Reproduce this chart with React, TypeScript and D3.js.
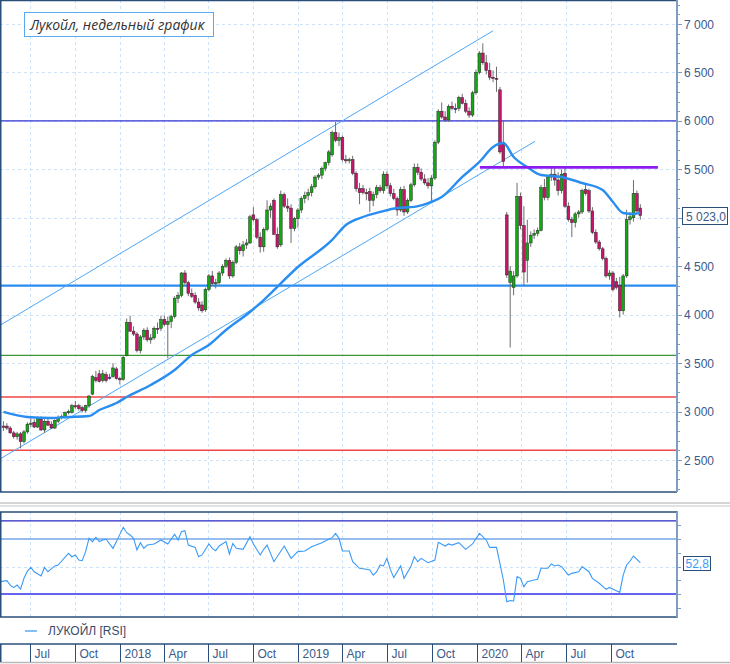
import React from "react";
import * as d3 from "d3";

type OHLC = [number, number, number, number];

// weekly candles: open, high, low, close
const candles2017: OHLC[] = [
  [2850, 2900, 2800, 2845], [2850, 2880, 2810, 2830], [2830, 2850, 2770, 2780], [2780, 2800, 2720, 2740],
  [2740, 2790, 2710, 2770], [2770, 2790, 2620, 2690], [2690, 2810, 2670, 2790], [2790, 2890, 2770, 2870],
  [2870, 2940, 2840, 2880], [2890, 2920, 2830, 2840], [2840, 2950, 2830, 2930], [2920, 2950, 2800, 2810],
  [2810, 2920, 2780, 2900], [2900, 2930, 2850, 2860], [2870, 2900, 2820, 2830], [2830, 2920, 2820, 2910],
  [2900, 2960, 2880, 2940], [2940, 2970, 2920, 2950], [2950, 3000, 2930, 2990], [2990, 3020, 2970, 3000],
  [2990, 3080, 2980, 3060], [3060, 3110, 3030, 3050], [3060, 3080, 3010, 3030], [3040, 3060, 2990, 3010],
  [3010, 3070, 2990, 3060], [3060, 3170, 3040, 3160], [3180, 3380, 3170, 3360], [3350, 3420, 3300, 3320],
  [3390, 3430, 3300, 3310], [3320, 3430, 3300, 3390], [3380, 3410, 3300, 3320], [3355, 3390, 3330, 3355],
  [3360, 3500, 3350, 3450], [3440, 3460, 3330, 3340],
];

const candles2018: OHLC[] = [
  [3340, 3360, 3280, 3330], [3330, 3580, 3320, 3560], [3580, 3960, 3570, 3920], [3920, 3990, 3820, 3830],
  [3830, 3880, 3780, 3800], [3800, 3820, 3610, 3630], [3630, 3790, 3600, 3770], [3770, 3860, 3740, 3840],
  [3840, 3870, 3720, 3740], [3740, 3800, 3700, 3760], [3760, 3880, 3740, 3860], [3860, 3920, 3800, 3850],
  [3860, 3990, 3830, 3950], [3950, 3990, 3880, 3900], [3900, 3980, 3550, 3930], [3930, 4000, 3860, 3980],
  [3980, 4190, 3960, 4170], [4170, 4230, 4120, 4200], [4200, 4440, 4180, 4430], [4430, 4460, 4310, 4330],
  [4330, 4350, 4190, 4220], [4220, 4270, 4170, 4190], [4200, 4230, 4110, 4130], [4130, 4170, 4040, 4070],
  [4100, 4140, 4020, 4040], [4050, 4280, 4030, 4260], [4260, 4420, 4240, 4400], [4400, 4450, 4300, 4320],
  [4320, 4370, 4270, 4330], [4330, 4450, 4310, 4430], [4430, 4520, 4400, 4500], [4500, 4580, 4480, 4560],
  [4560, 4590, 4370, 4400], [4400, 4560, 4380, 4540], [4540, 4720, 4520, 4700], [4700, 4740, 4620, 4660],
  [4660, 4760, 4600, 4720], [4720, 4780, 4680, 4740], [4740, 5030, 4730, 5010], [5030, 5110, 4960, 4980],
  [4980, 5000, 4780, 4800], [4800, 4850, 4640, 4700], [4700, 4900, 4650, 4880], [4880, 5180, 4860, 5080],
  [5080, 5150, 5000, 5120], [5180, 5200, 4820, 4830], [4830, 4900, 4680, 4700], [4720, 5280, 4700, 5240],
  [5240, 5260, 5100, 5120], [5120, 5200, 5060, 5100], [5100, 5140, 4740, 4890], [4890, 5010, 4860, 4990],
];

const candles2019: OHLC[] = [
  [4990, 5100, 4900, 5080], [5080, 5220, 5050, 5200], [5200, 5270, 5150, 5230], [5230, 5300, 5180, 5260],
  [5260, 5350, 5220, 5320], [5320, 5440, 5300, 5420], [5420, 5460, 5390, 5440], [5440, 5530, 5400, 5510],
  [5510, 5580, 5480, 5570], [5570, 5700, 5540, 5680], [5650, 5900, 5630, 5880], [5880, 5990, 5780, 5800],
  [5800, 5880, 5740, 5830], [5830, 5850, 5580, 5600], [5600, 5650, 5560, 5590], [5590, 5620, 5560, 5600],
  [5600, 5640, 5440, 5460], [5460, 5480, 5270, 5300], [5300, 5360, 5140, 5260], [5300, 5340, 5240, 5260],
  [5260, 5300, 5180, 5250], [5270, 5310, 5060, 5180], [5180, 5270, 5120, 5240], [5240, 5340, 5200, 5310],
  [5310, 5340, 5260, 5280], [5280, 5480, 5250, 5450], [5450, 5480, 5300, 5330], [5330, 5360, 5220, 5250],
  [5250, 5300, 5180, 5200], [5200, 5220, 5020, 5080], [5080, 5320, 5060, 5290], [5290, 5330, 5020, 5060],
  [5060, 5200, 5040, 5180], [5180, 5360, 5160, 5340], [5340, 5560, 5320, 5520], [5520, 5560, 5440, 5470],
  [5470, 5510, 5380, 5400], [5400, 5450, 5340, 5360], [5360, 5410, 5300, 5330], [5330, 5440, 5160, 5410],
  [5410, 5800, 5390, 5780], [5780, 6120, 5760, 6100], [6100, 6190, 6020, 6040], [6040, 6100, 5990, 6010],
  [6010, 6170, 5990, 6150], [6150, 6200, 6110, 6130], [6130, 6180, 6080, 6130], [6130, 6260, 6100, 6240],
  [6240, 6280, 6170, 6180], [6180, 6220, 6080, 6100], [6100, 6140, 6030, 6060], [6060, 6310, 6040, 6290],
];

const candles2020: OHLC[] = [
  [6290, 6530, 6270, 6500], [6500, 6720, 6480, 6700], [6700, 6800, 6580, 6600], [6600, 6680, 6480, 6520],
  [6520, 6600, 6420, 6450], [6450, 6520, 6400, 6440], [6440, 6560, 6300, 6430], [6320, 6350, 5660, 5680],
  [5780, 6000, 5530, 5580], [5030, 5060, 4380, 4410], [4330, 4500, 3660, 4450], [4280, 4450, 4200, 4400],
  [4400, 5360, 4380, 5220], [5220, 5260, 4880, 4920], [4920, 5120, 4300, 4440], [4560, 4980, 4330, 4740],
  [4740, 4860, 4700, 4820], [4820, 4880, 4780, 4840], [4840, 4900, 4810, 4870], [4870, 5340, 4860, 5310],
  [5310, 5400, 5180, 5210], [5210, 5440, 5180, 5420], [5420, 5520, 5380, 5450], [5450, 5520, 5330, 5390],
  [5390, 5470, 5230, 5280], [5280, 5500, 5250, 5450], [5460, 5520, 5100, 5120], [5120, 5160, 4960, 4980],
  [4980, 5010, 4800, 4950], [4950, 5060, 4900, 5040], [5040, 5080, 5000, 5060], [5060, 5300, 5040, 5280],
  [5290, 5350, 5230, 5250], [5280, 5300, 5050, 5070], [5070, 5110, 4830, 4850], [4850, 4880, 4730, 4750],
  [4750, 4770, 4660, 4680], [4680, 4700, 4560, 4580], [4580, 4600, 4380, 4400], [4400, 4460, 4360, 4430],
  [4430, 4450, 4240, 4260], [4340, 4380, 4260, 4280], [4300, 4390, 3970, 4040], [4040, 4420, 4000, 4400],
  [4400, 5080, 4380, 4980], [4980, 5060, 4930, 5010], [5000, 5390, 4960, 5250], [5250, 5280, 5040, 5070],
  [5100, 5140, 4980, 5023],
];

// moving average, read at selected weeks
const maWeek = [0, 7, 14, 19, 25, 28, 33, 36, 43, 50, 55, 60, 65, 72, 76, 86, 96, 100, 105, 110, 115, 120, 125, 128, 134, 139, 143, 146, 149, 153, 157, 163, 169, 175, 178, 181, 184, 186];
const maValue = [2996, 2944, 2934, 2944, 2954, 3016, 3088, 3150, 3274, 3429, 3584, 3687, 3842, 4028, 4151, 4492, 4771, 4925, 5008, 5060, 5101, 5112, 5163, 5214, 5421, 5576, 5731, 5772, 5627, 5524, 5442, 5421, 5359, 5287, 5163, 5049, 5039, 5050];

// RSI readings
const rsiWeek = [0, 1, 2, 3, 4, 5, 6, 7, 8, 9, 11, 12, 13, 15, 16, 17, 19, 20, 21, 22, 23, 24, 25, 26, 27, 28, 29, 30, 32, 33, 35, 36, 37, 38, 39, 40, 41, 42, 44, 46, 48, 50, 51, 52, 53, 54, 56, 57, 58, 60, 61, 62, 63, 65, 66, 67, 68, 70, 72, 73, 75, 76, 77, 79, 82, 84, 85, 86, 88, 90, 93, 95, 96, 97, 98, 99, 101, 102, 104, 106, 107, 108, 109, 110, 111, 112, 113, 114, 116, 117, 119, 120, 121, 122, 124, 126, 127, 129, 130, 131, 133, 135, 137, 139, 141, 142, 144, 145, 146, 147, 148, 149, 150, 151, 152, 153, 155, 156, 157, 159, 160, 161, 162, 163, 165, 166, 168, 169, 171, 172, 174, 176, 177, 179, 180, 181, 182, 183, 184, 186];
const rsiValue = [39.0, 39.7, 36.5, 34.6, 36.5, 33.6, 41.4, 46.7, 49.4, 46.2, 43.1, 49.4, 46.2, 50.4, 51.1, 54.0, 59.6, 57.1, 58.4, 54.7, 54.2, 60.8, 70.5, 68.1, 71.2, 68.1, 69.3, 69.8, 63.2, 68.1, 78.5, 74.6, 72.9, 70.5, 62.0, 67.3, 63.2, 65.6, 66.4, 69.3, 66.4, 73.4, 69.3, 75.3, 76.1, 65.6, 63.9, 57.1, 58.4, 66.4, 63.2, 61.5, 64.9, 68.1, 59.1, 66.8, 63.2, 62.5, 71.7, 66.4, 58.4, 62.5, 65.6, 53.5, 64.9, 55.9, 58.4, 60.8, 61.3, 64.4, 67.3, 69.8, 71.0, 74.1, 70.5, 61.3, 61.3, 53.5, 48.7, 48.0, 47.5, 43.8, 46.2, 51.1, 50.4, 55.9, 47.9, 41.9, 50.4, 41.4, 49.9, 57.1, 53.5, 55.9, 52.8, 54.7, 67.6, 64.9, 66.4, 65.6, 67.3, 62.5, 66.4, 74.1, 69.3, 63.9, 63.9, 52.2, 40.2, 24.4, 25.2, 24.9, 42.6, 41.4, 35.3, 39.0, 40.2, 40.7, 48.7, 48.7, 51.8, 50.4, 51.1, 49.9, 43.8, 45.0, 46.2, 49.9, 46.2, 41.4, 37.8, 33.4, 34.8, 32.4, 31.2, 43.8, 51.1, 54.0, 57.6, 52.8];

// 5 000 is hidden behind the last-price box in the original
const priceTicks = [2500, 3000, 3500, 4000, 4500, 5500, 6000, 6500, 7000];
const rsiTicks = [20, 30, 40, 50, 60, 70, 80];
const monthTicks: [string, string][] = [
  ["2017-07-01", "Jul"], ["2017-10-01", "Oct"], ["2018-01-01", "2018"], ["2018-04-01", "Apr"],
  ["2018-07-01", "Jul"], ["2018-10-01", "Oct"], ["2019-01-01", "2019"], ["2019-04-01", "Apr"],
  ["2019-07-01", "Jul"], ["2019-10-01", "Oct"], ["2020-01-01", "2020"], ["2020-04-01", "Apr"],
  ["2020-07-01", "Jul"], ["2020-10-01", "Oct"],
];
const gridPrices = [2500, 3000, 3500, 4000, 4500, 5000, 5500, 6000, 6500, 7000];

// horizontal support / resistance levels
const levelPrices = [6000, 4300, 3580, 3150, 2600];
const levelColors = ["#3232d2", "#2a8cf0", "#3c963c", "#f04646", "#f04646"];
const levelWidths = [1.2, 2.4, 1.2, 1.4, 1.4];

// channel and resistance segments: [start date, start price, end date, end price]
const channelUpper: [string, number, string, number] = ["2017-05-01", 3890, "2020-02-03", 6930];
const channelLower: [string, number, string, number] = ["2017-05-01", 2510, "2020-04-29", 5790];
const resistance: [string, number, string, number] = ["2020-01-07", 5520, "2021-01-05", 5520];

const lastPrice = "5 023,0";
const lastRsi = "52,8";

const W = 730;
const H = 664;
const PR = 677; // plot right edge
const MAIN_B = 492;
const RSI_T = 512;
const RSI_B = 617;
const AX_T = 644;
const AX_B = 662;

const parse = (s: string) => {
  const [y, m, d] = s.split("-").map(Number);
  return new Date(y, m - 1, d);
};

const App: React.FC = () => {
  const candles = [...candles2017, ...candles2018, ...candles2019, ...candles2020];
  const firstWeek = new Date(2017, 4, 8);
  const weekDate = (i: number) => d3.timeDay.offset(firstWeek, i * 7);

  const x = d3.scaleTime().domain([new Date(2017, 4, 1), new Date(2021, 1, 13)]).range([0, PR]);
  const y = d3.scaleLinear().domain([2500, 7000]).range([460, 24]);
  const r = d3.scaleLinear().domain([30, 70]).range([594, 539]);

  const maLine = d3
    .line<number>()
    .x((i) => x(weekDate(maWeek[i])))
    .y((i) => y(maValue[i]))
    .curve(d3.curveMonotoneX);

  const rsiLine = d3
    .line<number>()
    .x((i) => (i === 0 ? 0.5 : x(weekDate(rsiWeek[i]))))
    .y((i) => r(rsiValue[i]));

  const seg = (s: [string, number, string, number]) => ({
    x1: x(parse(s[0])),
    y1: y(s[1]),
    x2: x(parse(s[2])),
    y2: y(s[3]),
  });

  const font = "'Liberation Sans', Arial, sans-serif";
  const axisText = "#3a5a8a";
  const frame = "#2a4e7a";
  const axisLine = "#7f9dc0";
  const grid = "#cfe3f8";

  const minorTicks = d3.range(2200, 7300, 100);

  return (
    <svg width={W} height={H} style={{ position: "absolute", left: 0, top: 0, background: "#fff" }} fontFamily={font}>
      <defs>
        <clipPath id="mainClip">
          <rect x={0} y={0} width={PR} height={MAIN_B} />
        </clipPath>
        <clipPath id="rsiClip">
          <rect x={0} y={RSI_T} width={PR} height={RSI_B - RSI_T} />
        </clipPath>
      </defs>

      {/* main panel grid */}
      <g stroke={grid} strokeDasharray="3,3" strokeWidth={1}>
        {gridPrices.map((p) => (
          <line key={p} x1={0} x2={PR} y1={Math.round(y(p)) + 0.5} y2={Math.round(y(p)) + 0.5} />
        ))}
        {monthTicks.map(([d]) => (
          <line key={d} x1={Math.round(x(parse(d))) + 0.5} x2={Math.round(x(parse(d))) + 0.5} y1={0} y2={MAIN_B} />
        ))}
      </g>

      <g clipPath="url(#mainClip)">
        {/* level lines */}
        {levelPrices.map((p, i) => (
          <line key={p} x1={0} x2={PR} y1={y(p)} y2={y(p)} stroke={levelColors[i]} strokeWidth={levelWidths[i]} />
        ))}
        {/* channel */}
        {[channelUpper, channelLower].map((c, i) => (
          <line key={i} {...seg(c)} stroke="#4ea6f5" strokeWidth={1} />
        ))}

        {/* candles */}
        {candles.map(([o, h, l, c], i) => {
          const cx = x(weekDate(i));
          const top = y(Math.max(o, c));
          const bot = y(Math.min(o, c));
          const fill = o === c ? "#2b2bff" : c > o ? "#12a812" : "#c8146a";
          return (
            <g key={i}>
              <line x1={cx} x2={cx} y1={y(h)} y2={y(l)} stroke="#6e6e6e" strokeWidth={1} />
              <rect
                x={cx - 1.4}
                y={top}
                width={2.8}
                height={Math.max(bot - top, 1.2)}
                fill={fill}
                stroke="#2a2a2a"
                strokeWidth={0.5}
              />
            </g>
          );
        })}

        {/* moving average */}
        <path d={maLine(d3.range(maWeek.length)) || ""} fill="none" stroke="#2a8df0" strokeWidth={2.4} />

        {/* resistance */}
        <line {...seg(resistance)} stroke="#8a1cf0" strokeWidth={2.6} />
      </g>

      {/* title */}
      <rect x={24.5} y={12.5} width={189} height={24} fill="#fff" stroke="#5aa9f0" strokeWidth={1} />
      <text x={30} y={29.5} fontFamily="'Open Sans', 'DejaVu Sans', sans-serif" fontStyle="italic" fontSize={14} fill="#333">
        Лукойл, недельный график
      </text>

      {/* main frame */}
      <line x1={0} x2={PR} y1={0.5} y2={0.5} stroke={frame} strokeWidth={1.5} />
      <line x1={0} x2={PR} y1={MAIN_B} y2={MAIN_B} stroke={frame} strokeWidth={1.5} />
      <line x1={0.75} x2={0.75} y1={0} y2={MAIN_B} stroke={frame} strokeWidth={1.5} />
      <line x1={PR} x2={PR} y1={0} y2={MAIN_B} stroke={axisLine} strokeWidth={2} />

      {/* price axis */}
      <g stroke={axisLine} strokeWidth={1}>
        {minorTicks.map((p) => (
          <line key={p} x1={PR} x2={PR + (p % 500 === 0 ? 5 : 3)} y1={Math.round(y(p)) + 0.5} y2={Math.round(y(p)) + 0.5} />
        ))}
      </g>
      {priceTicks.map((p) => (
        <text key={p} x={684} y={y(p) + 4.5} fontSize={12} fill={axisText}>
          {d3.format(",")(p).replace(",", " ")}
        </text>
      ))}
      <rect x={682.5} y={207.5} width={45} height={17} fill="#fff" stroke={frame} strokeWidth={1} />
      <text x={686} y={220.5} fontSize={12} fill={axisText}>
        {lastPrice}
      </text>

      {/* separator */}
      <line x1={0} x2={W} y1={503} y2={503} stroke="#c8c8c8" strokeWidth={1.5} />
      <line x1={0} x2={W} y1={506} y2={506} stroke="#d8d8d8" strokeWidth={1.5} />

      {/* RSI panel */}
      <g stroke={grid} strokeDasharray="3,3" strokeWidth={1}>
        <line x1={0} x2={PR} y1={Math.round(r(50)) + 0.5} y2={Math.round(r(50)) + 0.5} />
        {monthTicks.map(([d]) => (
          <line key={d} x1={Math.round(x(parse(d))) + 0.5} x2={Math.round(x(parse(d))) + 0.5} y1={RSI_T} y2={RSI_B} />
        ))}
      </g>
      <g clipPath="url(#rsiClip)">
        <line x1={0} x2={PR} y1={r(83.2)} y2={r(83.2)} stroke="#2626c8" strokeWidth={1.4} />
        <line x1={0} x2={PR} y1={r(70)} y2={r(70)} stroke="#2f7ddc" strokeWidth={1.1} />
        <line x1={0} x2={PR} y1={r(30)} y2={r(30)} stroke="#6464f0" strokeWidth={2} />
        <path d={rsiLine(d3.range(rsiWeek.length)) || ""} fill="none" stroke="#3a9af8" strokeWidth={1.1} />
      </g>
      <rect x={0.75} y={RSI_T} width={PR - 0.75} height={RSI_B - RSI_T} fill="none" stroke={frame} strokeWidth={1.5} />
      <line x1={PR} x2={PR} y1={RSI_T} y2={RSI_B} stroke={axisLine} strokeWidth={2} />
      <g stroke={axisLine} strokeWidth={1}>
        {rsiTicks.map((v) => (
          <line key={v} x1={PR} x2={PR + 4} y1={Math.round(r(v)) + 0.5} y2={Math.round(r(v)) + 0.5} />
        ))}
      </g>
      <rect x={683.5} y={556.5} width={27} height={14} fill="#fff" stroke={frame} strokeWidth={1} />
      <text x={685.5} y={568} fontSize={12} fill="#3a9af8">
        {lastRsi}
      </text>

      {/* legend */}
      <line x1={25} x2={37} y1={631} y2={631} stroke="#5aaaf5" strokeWidth={1.5} />
      <text x={48} y={635} fontSize={12} fill="#3a4a6a">
        ЛУКОЙЛ [RSI]
      </text>

      {/* time axis */}
      <line x1={0} x2={PR} y1={AX_T} y2={AX_T} stroke={frame} strokeWidth={1.5} />
      <line x1={0} x2={W} y1={AX_B + 0.5} y2={AX_B + 0.5} stroke="#b8b8b8" strokeWidth={1.5} />
      <line x1={0.75} x2={0.75} y1={AX_T} y2={AX_B} stroke={frame} strokeWidth={1.5} />
      {monthTicks.map(([d, label]) => {
        const tx = Math.round(x(parse(d))) + 0.5;
        return (
          <g key={d}>
            <line x1={tx} x2={tx} y1={AX_T} y2={AX_B} stroke={frame} strokeWidth={1} />
            <text x={tx + 4} y={AX_B - 4} fontSize={12} fill={axisText}>
              {label}
            </text>
          </g>
        );
      })}
    </svg>
  );
};

export default App;
